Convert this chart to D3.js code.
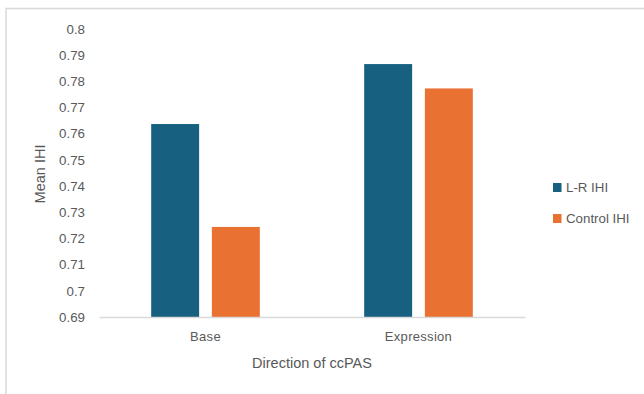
<!DOCTYPE html>
<html>
<head>
<meta charset="utf-8">
<script src="https://cdn.jsdelivr.net/npm/d3@7"></script>
<style>
  html, body { margin: 0; padding: 0; background: #fff; }
  svg { display: block; font-family: "Liberation Sans", Arial, sans-serif; }
</style>
</head>
<body>
<svg id="chart" width="644" height="394"></svg>
<script>
// Mean IHI by direction of ccPAS
const categories = ["Base", "Expression"];
const seriesNames = ["L-R IHI", "Control IHI"];
const lrValues = [0.7637, 0.7866];
const controlValues = [0.7244, 0.7773];
const yTicks = [0.69, 0.7, 0.71, 0.72, 0.73, 0.74, 0.75, 0.76, 0.77, 0.78, 0.79, 0.8];
const colors = ["#17607f", "#e97132"];

const svg = d3.select("#chart");
const W = 644, H = 394;
const plot = { left: 99, right: 525, top: 29, bottom: 317 };

// chart frame
svg.append("rect")
  .attr("x", 6).attr("y", 8.5)
  .attr("width", W + 10).attr("height", H + 10)
  .attr("fill", "#fff")
  .attr("stroke", "#d9d9d9").attr("stroke-width", 1.5);

const x0 = d3.scaleBand().domain(categories).range([plot.left, plot.right]).paddingInner(0.49).paddingOuter(0.245);
const x1 = d3.scaleBand().domain(seriesNames).range([0, x0.bandwidth()]).paddingInner(0.21);
const y = d3.scaleLinear().domain([0.69, 0.8]).range([plot.bottom, plot.top]);

const rows = categories.map((c, i) => ({ cat: c, vals: [lrValues[i], controlValues[i]] }));

// y tick labels
const yAxis = d3.axisLeft(y).tickValues(yTicks).tickSize(0).tickPadding(14)
  .tickFormat(d => d3.format("")(+d.toFixed(2)));
const gy = svg.append("g").attr("transform", `translate(${plot.left},0)`).call(yAxis);
gy.select(".domain").remove();
gy.selectAll("text").attr("fill", "#595959").style("font-size", "13.3px");

// bars
const groups = svg.append("g").selectAll("g").data(rows).join("g")
  .attr("transform", d => `translate(${x0(d.cat)},0)`);
groups.selectAll("rect")
  .data(d => d.vals.map((v, j) => ({ name: seriesNames[j], v, j })))
  .join("rect")
  .attr("x", d => x1(d.name))
  .attr("width", x1.bandwidth())
  .attr("y", d => y(d.v))
  .attr("height", d => y(0.69) - y(d.v))
  .attr("fill", d => colors[d.j]);

// x axis
const xAxis = d3.axisBottom(x0).tickSize(0).tickPadding(15);
const gx = svg.append("g").attr("transform", `translate(0,${plot.bottom})`).call(xAxis);
gx.select(".domain").attr("stroke", "#d9d9d9").attr("stroke-width", 1.5);
gx.selectAll("text").attr("fill", "#595959").style("font-size", "13px").style("letter-spacing", "0.3px");

// axis titles
svg.append("text")
  .attr("x", 312).attr("y", 368)
  .attr("text-anchor", "middle")
  .attr("fill", "#595959").style("font-size", "14.5px")
  .text("Direction of ccPAS");

svg.append("text")
  .attr("transform", "translate(45,174) rotate(-90)")
  .attr("text-anchor", "middle")
  .attr("fill", "#595959").style("font-size", "14.5px")
  .text("Mean IHI");

// legend
const legend = svg.append("g").selectAll("g").data(seriesNames).join("g")
  .attr("transform", (d, i) => `translate(553,${183 + i * 31})`);
legend.append("rect").attr("width", 8.5).attr("height", 9).attr("fill", (d, i) => colors[i]);
legend.append("text")
  .attr("x", 13).attr("y", 4.5).attr("dy", "0.35em")
  .attr("fill", "#595959").style("font-size", "13.3px")
  .text(d => d);
</script>
</body>
</html>
